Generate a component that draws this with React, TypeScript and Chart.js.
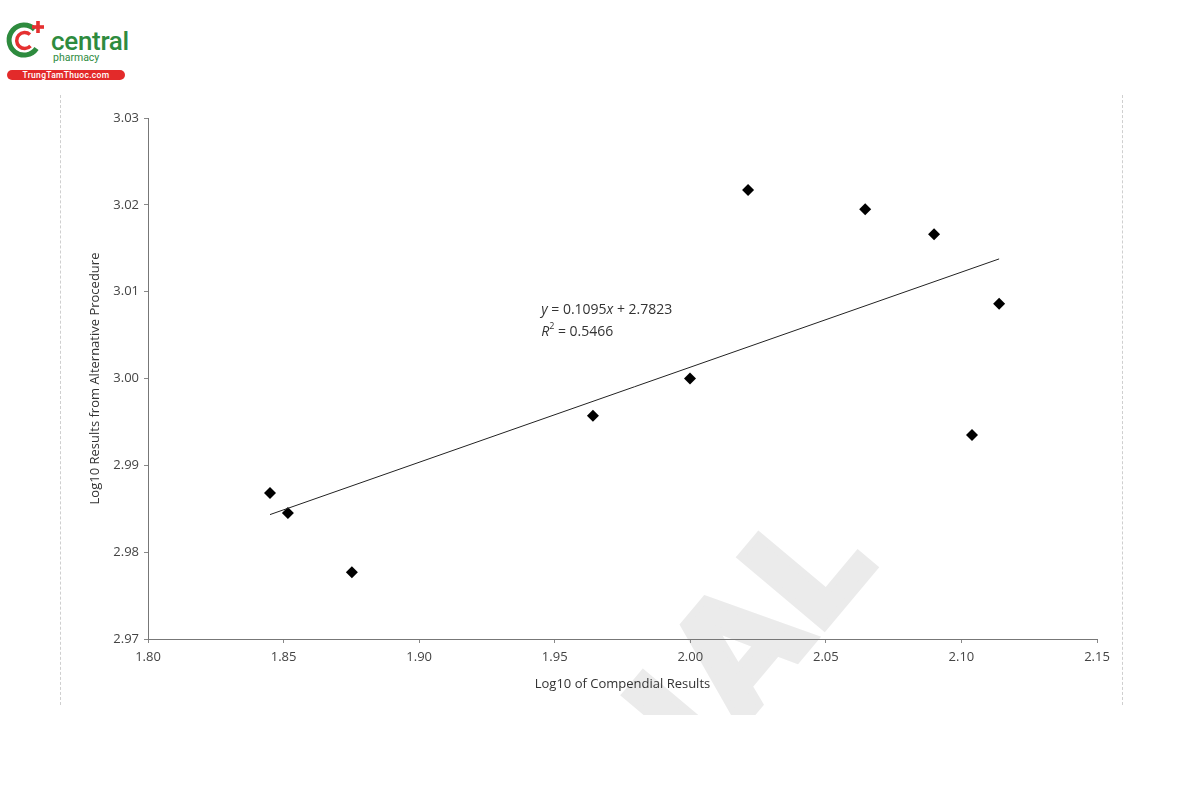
import React, { useEffect, useRef } from "react";
import { Chart, registerables } from "chart.js";

Chart.register(...registerables);

// Data (log10 values)
const compendialLog = [1.845, 1.8516, 1.8752, 1.9641, 1.9999, 2.0213, 2.0645, 2.0899, 2.1039, 2.1139];
const alternativeLog = [2.9868, 2.9845, 2.9777, 2.9957, 3.0, 3.0217, 3.0195, 3.0166, 2.9935, 3.0086];

// Linear trend line shown in the chart
const trendSlope = 0.1095;
const trendIntercept = 2.7823;
const rSquared = "0.5466";

const xAxisTitle = "Log10 of Compendial Results";
const yAxisTitle = "Log10 Results from Alternative Procedure";
const xMin = 1.8, xMax = 2.15, xStep = 0.05;
const yMin = 2.97, yMax = 3.03, yStep = 0.01;
const labelAnchor = { x: 1.945, y: 3.0079 };

const FONT = "'Open Sans', 'DejaVu Sans', sans-serif";

const equationPlugin = {
  id: "equationLabel",
  afterDatasetsDraw(chart: any) {
    const { ctx, scales } = chart;
    const x0 = scales.x.getPixelForValue(labelAnchor.x);
    const y0 = scales.y.getPixelForValue(labelAnchor.y);
    const lines: [string, string][][] = [
      [["y", "italic"], [" = " + trendSlope.toFixed(4), "normal"], ["x", "italic"], [" + " + trendIntercept.toFixed(4), "normal"]],
      [["R", "italic"], ["2", "sup"], [" = " + rSquared, "normal"]],
    ];
    ctx.save();
    ctx.fillStyle = "#333";
    ctx.textBaseline = "middle";
    lines.forEach((runs, i) => {
      let x = x0;
      const y = y0 + i * 22;
      runs.forEach(([t, s]) => {
        if (s === "sup") {
          ctx.font = `9px ${FONT}`;
          ctx.fillText(t, x, y - 5);
        } else {
          ctx.font = `${s === "italic" ? "italic " : ""}14px ${FONT}`;
          ctx.fillText(t, x, y);
        }
        x += ctx.measureText(t).width;
      });
    });
    ctx.restore();
  },
};

function Logo() {
  return (
    <div style={{ position: "absolute", left: 0, top: 0, width: 140, height: 90, fontFamily: "Roboto, 'Open Sans', sans-serif" }}>
      <svg width="50" height="50" viewBox="0 0 50 50" style={{ position: "absolute", left: 4, top: 16 }}>
        <path d="M 30.6 13.4 A 15 15 0 1 0 32.5 32.5" fill="none" stroke="#2e8b3e" strokeWidth="5" />
        <path d="M 26 18.5 A 8 8 0 1 0 26.5 30" fill="none" stroke="#e53030" strokeWidth="3.5" />
        <rect x="32.2" y="5" width="3.6" height="12" fill="#e53030" />
        <rect x="28" y="9.2" width="12" height="3.6" fill="#e53030" />
      </svg>
      <div style={{ position: "absolute", left: 51, top: 26, color: "#2e8b3e", fontSize: 26, fontWeight: 500, lineHeight: "30px", letterSpacing: -0.3 }}>central</div>
      <div style={{ position: "absolute", left: 53, top: 52, color: "#2e8b3e", fontSize: 10.5, lineHeight: "12px" }}>pharmacy</div>
      <div style={{ position: "absolute", left: 7, top: 70, width: 118, height: 10, borderRadius: 5, background: "#e32a2a", color: "#fff", fontSize: 8.5, lineHeight: "10px", textAlign: "center", fontWeight: 500, letterSpacing: 0.3 }}>TrungTamThuoc.com</div>
    </div>
  );
}

const wmStyle: React.CSSProperties = {
  position: "absolute",
  bottom: "-0.21em",
  fontFamily: "'DejaVu Sans', sans-serif",
  fontWeight: 900,
  fontSize: 150,
  lineHeight: 1,
  color: "#ebebeb",
  WebkitTextStroke: "7px #ebebeb",
  whiteSpace: "nowrap",
};

export default function App() {
  const canvasRef = useRef<HTMLCanvasElement | null>(null);

  useEffect(() => {
    if (!canvasRef.current) return;
    const points = compendialLog.map((x, i) => ({ x, y: alternativeLog[i] }));
    const tx0 = Math.min(...compendialLog);
    const tx1 = Math.max(...compendialLog);
    const trend = [
      { x: tx0, y: trendSlope * tx0 + trendIntercept },
      { x: tx1, y: trendSlope * tx1 + trendIntercept },
    ];
    const tickFont = { family: FONT, size: 13 };
    const chart = new Chart(canvasRef.current, {
      type: "scatter",
      data: {
        datasets: [
          {
            data: trend,
            type: "line",
            showLine: true,
            borderColor: "#222",
            borderWidth: 1,
            pointRadius: 0,
            fill: false,
          } as any,
          {
            data: points,
            pointStyle: "rectRot",
            pointRadius: 6,
            pointBackgroundColor: "#000",
            pointBorderColor: "#000",
            pointBorderWidth: 0,
          },
        ],
      },
      options: {
        responsive: false,
        animation: false,
        layout: { padding: { left: 80, top: 118, right: 103, bottom: 100 } },
        plugins: { legend: { display: false }, tooltip: { enabled: false } },
        scales: {
          x: {
            type: "linear",
            min: xMin,
            max: xMax,
            afterFit: (s: any) => { s.height = 61; },
            ticks: { stepSize: xStep, color: "#444", font: tickFont, padding: 6, callback: (v: any) => Number(v).toFixed(2) },
            grid: { display: true, drawOnChartArea: false, drawTicks: true, tickLength: 4, color: "#888" },
            border: { display: true, color: "#777", width: 1 },
            title: { display: true, text: xAxisTitle, color: "#333", font: { family: FONT, size: 13 }, padding: { top: 4, bottom: 8 } },
          },
          y: {
            type: "linear",
            min: yMin,
            max: yMax,
            afterFit: (s: any) => { s.width = 68; },
            ticks: { stepSize: yStep, color: "#444", font: tickFont, padding: 5, callback: (v: any) => Number(v).toFixed(2) },
            grid: { display: true, drawOnChartArea: false, drawTicks: true, tickLength: 4, color: "#888" },
            border: { display: true, color: "#777", width: 1 },
            title: { display: true, text: yAxisTitle, color: "#333", font: { family: FONT, size: 13 }, padding: { top: 7, bottom: 4 } },
          },
        },
      },
      plugins: [equationPlugin],
    });
    return () => chart.destroy();
  }, []);

  return (
    <div style={{ position: "fixed", left: 0, top: 0, width: 1200, height: 800, background: "#fff", overflow: "hidden" }}>
      <Logo />
      <div style={{ position: "absolute", left: 0, top: 0, width: 1200, height: 715, overflow: "hidden" }}>
        <div style={{ position: "absolute", left: 734, top: 721, width: 0, height: 0, transform: "rotate(-50deg)", transformOrigin: "0 0" }}>
          <span style={{ ...wmStyle, right: 8 }}>I</span>
          <span style={{ ...wmStyle, left: 0 }}>AL</span>
        </div>
      </div>
      <div style={{ position: "absolute", left: 60, top: 95, width: 0, height: 610, borderLeft: "1px dashed #cfcfcf" }} />
      <div style={{ position: "absolute", left: 1122, top: 95, width: 0, height: 610, borderLeft: "1px dashed #cfcfcf" }} />
      <canvas ref={canvasRef} width={1200} height={800} style={{ position: "absolute", left: 0, top: 0 }} />
    </div>
  );
}
